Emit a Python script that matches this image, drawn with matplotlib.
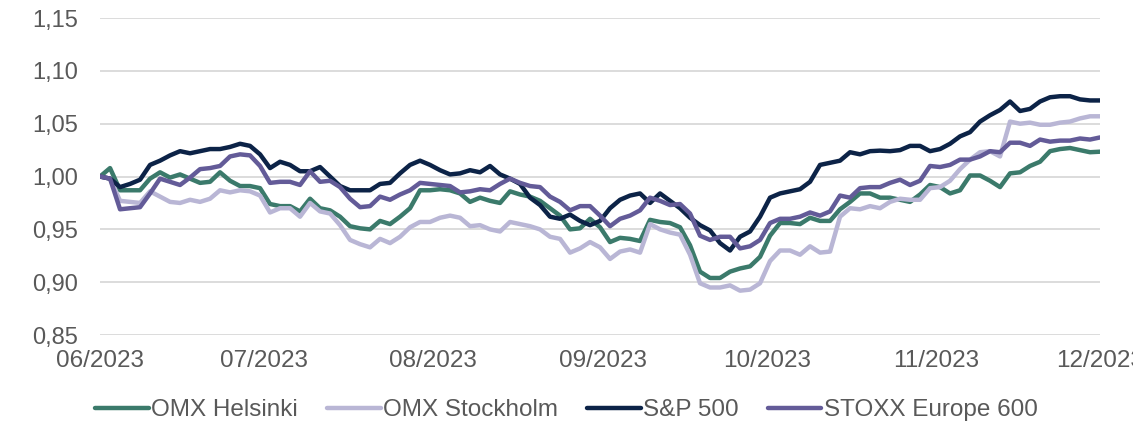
import numpy as np
import pandas as pd
import matplotlib
matplotlib.use('Agg')
import matplotlib.pyplot as plt
import matplotlib.dates as mdates
from matplotlib.ticker import FuncFormatter

plt.rcParams['font.family'] = ['Liberation Sans', 'DejaVu Sans']

# index values, evenly spaced from 1 Jun 2023 to 1 Dec 2023
omx_helsinki = [
    1.000, 1.008, 0.987, 0.987, 0.987, 0.998, 1.004, 0.999, 1.002, 0.998,
    0.994, 0.995, 1.004, 0.996, 0.991, 0.991, 0.989, 0.974, 0.972, 0.972,
    0.967, 0.979, 0.970, 0.968, 0.962, 0.953, 0.951, 0.950, 0.958, 0.955,
    0.962, 0.970, 0.987, 0.987, 0.988, 0.987, 0.984, 0.976, 0.980, 0.977,
    0.975, 0.986, 0.983, 0.981, 0.977, 0.970, 0.963, 0.950, 0.951, 0.960,
    0.952, 0.938, 0.942, 0.941, 0.939, 0.959, 0.957, 0.956, 0.952, 0.935,
    0.910, 0.904, 0.904, 0.910, 0.913, 0.915, 0.924, 0.944, 0.956, 0.956,
    0.955, 0.961, 0.958, 0.958, 0.969, 0.976, 0.984, 0.984, 0.980, 0.980,
    0.978, 0.976, 0.983, 0.992, 0.990, 0.984, 0.987, 1.001, 1.001, 0.996,
    0.990, 1.003, 1.004, 1.010, 1.014, 1.024, 1.026, 1.027, 1.025, 1.023,
    1.0235,
]
omx_stockholm = [
    1.000, 0.998, 0.977, 0.976, 0.975, 0.986, 0.981, 0.976, 0.975, 0.978,
    0.976, 0.979, 0.987, 0.985, 0.987, 0.986, 0.982, 0.966, 0.970, 0.970,
    0.962, 0.975, 0.967, 0.965, 0.954, 0.940, 0.936, 0.933, 0.941, 0.937,
    0.943, 0.952, 0.957, 0.957, 0.961, 0.963, 0.961, 0.953, 0.954, 0.950,
    0.948, 0.957, 0.955, 0.953, 0.950, 0.943, 0.941, 0.928, 0.932, 0.938,
    0.933, 0.922, 0.929, 0.931, 0.928, 0.955, 0.950, 0.947, 0.945, 0.926,
    0.899, 0.895, 0.895, 0.897, 0.892, 0.893, 0.899, 0.920, 0.930, 0.930,
    0.926, 0.934, 0.928, 0.929, 0.962, 0.970, 0.969, 0.972, 0.970, 0.976,
    0.979, 0.978, 0.978, 0.989, 0.990, 0.996, 1.007, 1.016, 1.023, 1.024,
    1.019, 1.052, 1.050, 1.051, 1.049, 1.049, 1.051, 1.052, 1.055, 1.057,
    1.057,
]
sp500 = [
    1.000, 0.998, 0.990, 0.993, 0.997, 1.011, 1.015, 1.020, 1.024, 1.022,
    1.024, 1.026, 1.026, 1.028, 1.031, 1.029, 1.021, 1.008, 1.014, 1.011,
    1.005, 1.005, 1.009, 1.000, 0.991, 0.987, 0.987, 0.987, 0.993, 0.994,
    1.003, 1.011, 1.015, 1.011, 1.006, 1.002, 1.003, 1.006, 1.004, 1.010,
    1.002, 0.998, 0.993, 0.980, 0.973, 0.962, 0.960, 0.964, 0.958, 0.954,
    0.958, 0.970, 0.978, 0.982, 0.984, 0.975, 0.984, 0.977, 0.970, 0.961,
    0.954, 0.949, 0.937, 0.930, 0.943, 0.948, 0.962, 0.980, 0.984, 0.986,
    0.988, 0.995, 1.011, 1.013, 1.015, 1.023, 1.021, 1.024, 1.0245, 1.024,
    1.025, 1.029, 1.029, 1.024, 1.026, 1.031, 1.038, 1.042, 1.052, 1.058,
    1.063, 1.071, 1.062, 1.064, 1.071, 1.075, 1.076, 1.076, 1.073, 1.072,
    1.072,
]
stoxx600 = [
    1.000, 0.998, 0.969, 0.970, 0.971, 0.984, 0.998, 0.995, 0.992, 0.999,
    1.007, 1.008, 1.010, 1.019, 1.021, 1.020, 1.010, 0.994, 0.995, 0.995,
    0.992, 1.005, 0.995, 0.996, 0.990, 0.979, 0.971, 0.972, 0.981, 0.978,
    0.983, 0.987, 0.994, 0.993, 0.992, 0.991, 0.985, 0.986, 0.988, 0.987,
    0.993, 0.998, 0.994, 0.991, 0.990, 0.981, 0.976, 0.968, 0.972, 0.972,
    0.963, 0.953, 0.960, 0.963, 0.968, 0.980, 0.977, 0.973, 0.974, 0.965,
    0.944, 0.940, 0.943, 0.943, 0.932, 0.934, 0.940, 0.956, 0.960, 0.960,
    0.962, 0.966, 0.963, 0.967, 0.982, 0.980, 0.989, 0.990, 0.990, 0.994,
    0.997, 0.992, 0.996, 1.010, 1.009, 1.011, 1.016, 1.016, 1.019, 1.024,
    1.023, 1.032, 1.032, 1.029, 1.035, 1.033, 1.034, 1.034, 1.036, 1.035,
    1.037,
]

series = [
    ('OMX Helsinki', omx_helsinki, '#3b7a6b'),
    ('OMX Stockholm', omx_stockholm, '#b9b6d5'),
    ('S&P 500', sp500, '#0c2347'),
    ('STOXX Europe 600', stoxx600, '#635b98'),
]
month_ticks = pd.date_range('2023-06-01', '2023-12-01', freq='MS')
dates = pd.date_range('2023-06-01', '2023-12-01', periods=len(sp500))

fig = plt.figure(figsize=(11.33, 4.29), dpi=100)
ax = fig.add_axes([0.0883, 0.219, 0.8826, 0.739])

for name, vals, col in series:
    ax.plot(dates, vals, color=col, lw=3.2, label=name,
            solid_joinstyle='round', solid_capstyle='round')

ax.set_ylim(0.85, 1.15)
ax.set_yticks(np.arange(0.85, 1.151, 0.05))
ax.yaxis.set_major_formatter(FuncFormatter(lambda v, _: f'{v:.2f}'.replace('.', ',')))
ax.set_xlim(month_ticks[0], month_ticks[-1])
ax.set_xticks(month_ticks)
ax.xaxis.set_major_formatter(mdates.DateFormatter('%m/%Y'))

ax.grid(axis='y', color='#d9d9d9', lw=1.3)
ax.set_axisbelow(True)
for s in ax.spines.values():
    s.set_visible(False)
ax.tick_params(axis='x', length=0, labelsize=17.5, colors='#595959', pad=11)
ax.tick_params(axis='y', length=0, labelsize=17, colors='#595959', pad=16)

leg = fig.legend(loc='center', bbox_to_anchor=(0.50, 0.044), ncol=4,
                 frameon=False, fontsize=17.5, handlelength=2.2,
                 handletextpad=0.1, columnspacing=1.2)
for t in leg.get_texts():
    t.set_color('#595959')

fig.savefig('out.png', dpi=100)
